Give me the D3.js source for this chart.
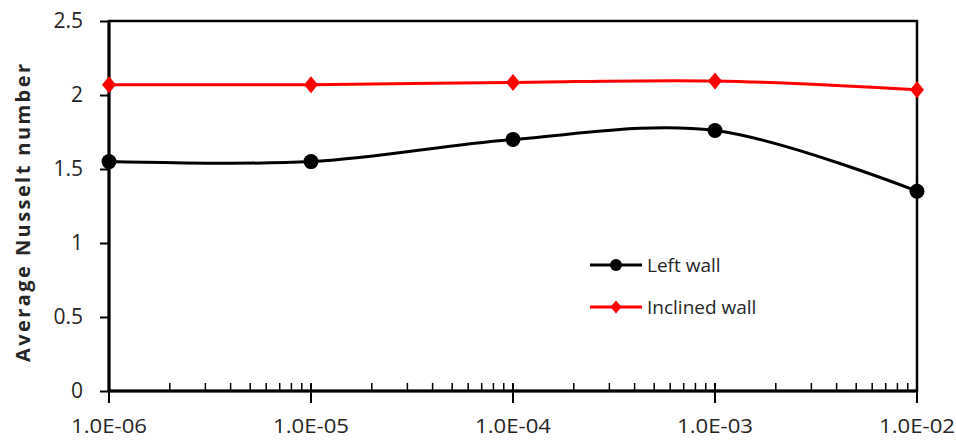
<!DOCTYPE html>
<html>
<head>
<meta charset="utf-8">
<script src="https://cdn.jsdelivr.net/npm/d3@7"></script>
<style>
  body { margin: 0; background: #fff; }
  text { font-family: "Open Sans", sans-serif; fill: #262626; }
</style>
</head>
<body>
<svg id="chart" width="956" height="441"></svg>
<script>
const width = 956;
const height = 441;
const marginTop = 21;
const marginRight = 39;
const marginBottom = 50;
const marginLeft = 109;

// Data
const xValues = [1e-6, 1e-5, 1e-4, 1e-3, 1e-2];
const xTickLabels = ["1.0E-06", "1.0E-05", "1.0E-04", "1.0E-03", "1.0E-02"];
const yTicks = [0, 0.5, 1, 1.5, 2, 2.5];
const leftWall = [1.55, 1.55, 1.70, 1.76, 1.35];
const inclinedWall = [2.07, 2.07, 2.085, 2.095, 2.035];
const seriesNames = ["Left wall", "Inclined wall"];

const svg = d3.select("#chart");

const x = d3.scaleLog()
  .domain([1e-6, 1e-2])
  .range([marginLeft, width - marginRight]);

const y = d3.scaleLinear()
  .domain([0, 2.5])
  .range([height - marginBottom, marginTop]);

// Frame (top and right)
svg.append("rect")
  .attr("x", marginLeft)
  .attr("y", marginTop)
  .attr("width", x.range()[1] - marginLeft)
  .attr("height", y(0) - marginTop)
  .attr("fill", "none")
  .attr("stroke", "#000")
  .attr("stroke-width", 2.5);

// Minor ticks on x (inside only)
const minor = [];
for (let e = -6; e < -2; e++) {
  for (let m = 2; m <= 9; m++) minor.push(m * Math.pow(10, e));
}
svg.append("g")
  .selectAll("line")
  .data(minor)
  .join("line")
  .attr("x1", d => x(d))
  .attr("x2", d => x(d))
  .attr("y1", y(0))
  .attr("y2", y(0) - 8)
  .attr("stroke", "#000")
  .attr("stroke-width", 1.5);

// Major x ticks (crossing the axis)
svg.append("g")
  .selectAll("line")
  .data(xValues)
  .join("line")
  .attr("x1", d => x(d))
  .attr("x2", d => x(d))
  .attr("y1", y(0) - 8)
  .attr("y2", y(0) + 12)
  .attr("stroke", "#000")
  .attr("stroke-width", 2);

svg.append("g")
  .selectAll("text")
  .data(xValues)
  .join("text")
  .attr("x", d => x(d))
  .attr("y", 433)
  .attr("text-anchor", "middle")
  .attr("font-size", 20)
  .attr("textLength", 76)
  .attr("lengthAdjust", "spacingAndGlyphs")
  .text((d, i) => xTickLabels[i]);

// Y axis
svg.append("g")
  .attr("transform", `translate(${marginLeft},0)`)
  .call(d3.axisLeft(y).tickValues(yTicks).tickSize(9).tickPadding(17)
    .tickFormat(d => d))
  .call(g => g.select(".domain").remove())
  .call(g => g.selectAll(".tick line").attr("stroke-width", 2))
  .call(g => g.selectAll(".tick text")
    .attr("font-size", 21)
    .attr("font-family", "Open Sans, sans-serif")
    .attr("fill", "#262626"));

// Axis lines
svg.append("line")
  .attr("x1", marginLeft).attr("x2", marginLeft)
  .attr("y1", marginTop).attr("y2", y(0))
  .attr("stroke", "#000").attr("stroke-width", 3);
svg.append("line")
  .attr("x1", marginLeft).attr("x2", x.range()[1])
  .attr("y1", y(0)).attr("y2", y(0))
  .attr("stroke", "#000").attr("stroke-width", 3);

// Y label
svg.append("text")
  .attr("transform", `translate(30,${(marginTop + y(0)) / 2 + 7}) rotate(-90)`)
  .attr("text-anchor", "middle")
  .attr("font-size", 20)
  .attr("font-weight", "bold")
  .attr("textLength", 298)
  .attr("lengthAdjust", "spacing")
  .text("Average Nusselt number");

const line = d3.line()
  .x((d, i) => x(xValues[i]))
  .y(d => y(d))
  .curve(d3.curveCatmullRom.alpha(0.5));

svg.append("path")
  .datum(inclinedWall)
  .attr("d", line)
  .attr("fill", "none")
  .attr("stroke", "#ff0000")
  .attr("stroke-width", 3);

svg.append("path")
  .datum(leftWall)
  .attr("d", line)
  .attr("fill", "none")
  .attr("stroke", "#000")
  .attr("stroke-width", 3);

const diamond = (cx, cy, w, h) =>
  `M${cx},${cy - h}L${cx + w},${cy}L${cx},${cy + h}L${cx - w},${cy}Z`;

svg.append("g")
  .selectAll("path")
  .data(inclinedWall)
  .join("path")
  .attr("d", (d, i) => diamond(x(xValues[i]), y(d), 7, 8.5))
  .attr("fill", "#ff0000");

svg.append("g")
  .selectAll("circle")
  .data(leftWall)
  .join("circle")
  .attr("cx", (d, i) => x(xValues[i]))
  .attr("cy", d => y(d))
  .attr("r", 7.5)
  .attr("fill", "#000");

// Legend
const legend = svg.append("g").attr("transform", "translate(590,265)");
[0, 1].forEach(i => {
  const g = legend.append("g").attr("transform", `translate(0,${i * 42})`);
  g.append("line")
    .attr("x1", 0).attr("x2", 52)
    .attr("stroke", i === 0 ? "#000" : "#ff0000")
    .attr("stroke-width", 3);
  if (i === 0) {
    g.append("circle").attr("cx", 26).attr("r", 6).attr("fill", "#000");
  } else {
    g.append("path").attr("d", diamond(26, 0, 5.5, 6.5)).attr("fill", "#ff0000");
  }
  g.append("text")
    .attr("x", 57)
    .attr("y", 0)
    .attr("dy", "0.35em")
    .attr("font-size", 19)
    .text(seriesNames[i]);
});
</script>
</body>
</html>
